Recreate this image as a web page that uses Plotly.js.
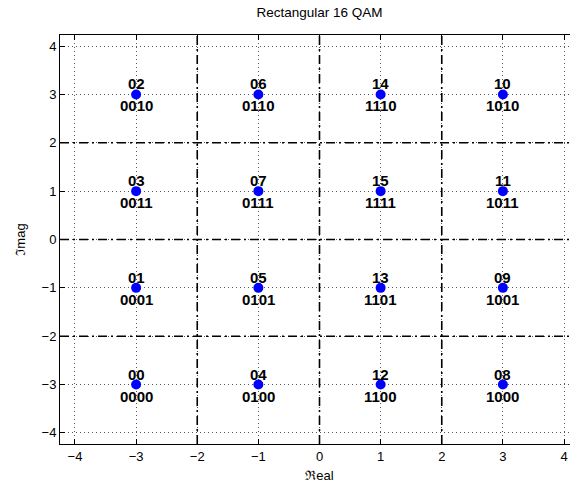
<!DOCTYPE html>
<html>
<head>
<meta charset="utf-8">
<script src="https://cdn.plot.ly/plotly-3.0.1.min.js"></script>
<style>
html,body{margin:0;padding:0;overflow:hidden;background:#fff;width:570px;height:485px;}
#chart{width:582px;height:485px;}
</style>
</head>
<body>
<div id="chart"></div>
<script>
// Constellation points (in-phase, quadrature)
const realVals = [-3, -1, 1, 3, -3, -1, 1, 3, -3, -1, 1, 3, -3, -1, 1, 3];
const imagVals = [3, 3, 3, 3, 1, 1, 1, 1, -1, -1, -1, -1, -3, -3, -3, -3];
const decLabels = ['02','06','14','10','03','07','15','11','01','05','13','09','00','04','12','08'];
const binLabels = ['0010','0110','1110','1010','0011','0111','1111','1011','0001','0101','1101','1001','0000','0100','1100','1000'];
// Decision boundaries
const boundaries = [-2, 0, 2];
const tickVals = [-4, -3, -2, -1, 0, 1, 2, 3, 4];

const font = 'Liberation Sans, Arial, Helvetica, sans-serif';

const traces = [{
  x: realVals, y: imagVals, type: 'scatter', mode: 'markers',
  marker: {color: '#0000ff', size: 10, line: {width: 0}},
  hoverinfo: 'skip', showlegend: false
}];

const shapes = [];
const bStyle = {color: '#000', width: 1.6, dash: '9px,4px,2px,4px'};
boundaries.forEach(b => {
  shapes.push({type: 'line', xref: 'x', yref: 'paper', x0: b, x1: b, y0: 0, y1: 1, line: bStyle, layer: 'above'});
  shapes.push({type: 'line', xref: 'paper', yref: 'y', x0: 0, x1: 1, y0: b, y1: b, line: bStyle, layer: 'above'});
});

const annotations = [];
realVals.forEach((xv, i) => {
  annotations.push({x: xv, y: imagVals[i], xref: 'x', yref: 'y', text: '<b>' + decLabels[i] + '</b>',
    showarrow: false, xanchor: 'center', yanchor: 'bottom', yshift: 0,
    font: {family: font, size: 15, color: '#000'}});
  annotations.push({x: xv, y: imagVals[i], xref: 'x', yref: 'y', text: '<b>' + binLabels[i] + '</b>',
    showarrow: false, xanchor: 'center', yanchor: 'top', yshift: -1,
    font: {family: font, size: 15, color: '#000'}});
});

const axisCommon = {
  tickvals: tickVals, ticks: 'inside', ticklen: 5, tickwidth: 1, tickcolor: '#000',
  showline: true, linecolor: '#000', linewidth: 1, mirror: 'ticks',
  showgrid: true, gridcolor: '#555', gridwidth: 1, griddash: '1px,3px',
  zeroline: false, tickfont: {family: font, size: 13, color: '#000'}
};

const layout = {
  width: 582, height: 485,
  margin: {l: 60, r: 3, t: 35, b: 41},
  paper_bgcolor: '#fff', plot_bgcolor: '#fff',
  title: {text: 'Rectangular 16 QAM', font: {family: font, size: 13.5, color: '#000'},
          x: 0.5, xref: 'paper', xanchor: 'center', y: 1, yref: 'container', yanchor: 'top', pad: {t: 8}},
  xaxis: Object.assign({}, axisCommon, {range: [-4.245, 4.245],
    title: {text: 'ℜeal', font: {family: font, size: 13, color: '#000'}, standoff: 8}}),
  yaxis: Object.assign({}, axisCommon, {range: [-4.23, 4.23],
    title: {text: 'ℑmag', font: {family: font, size: 13, color: '#000'}, standoff: 13}}),
  shapes: shapes,
  annotations: annotations,
  showlegend: false
};

Plotly.newPlot('chart', traces, layout, {displayModeBar: false, staticPlot: true});
</script>
</body>
</html>
